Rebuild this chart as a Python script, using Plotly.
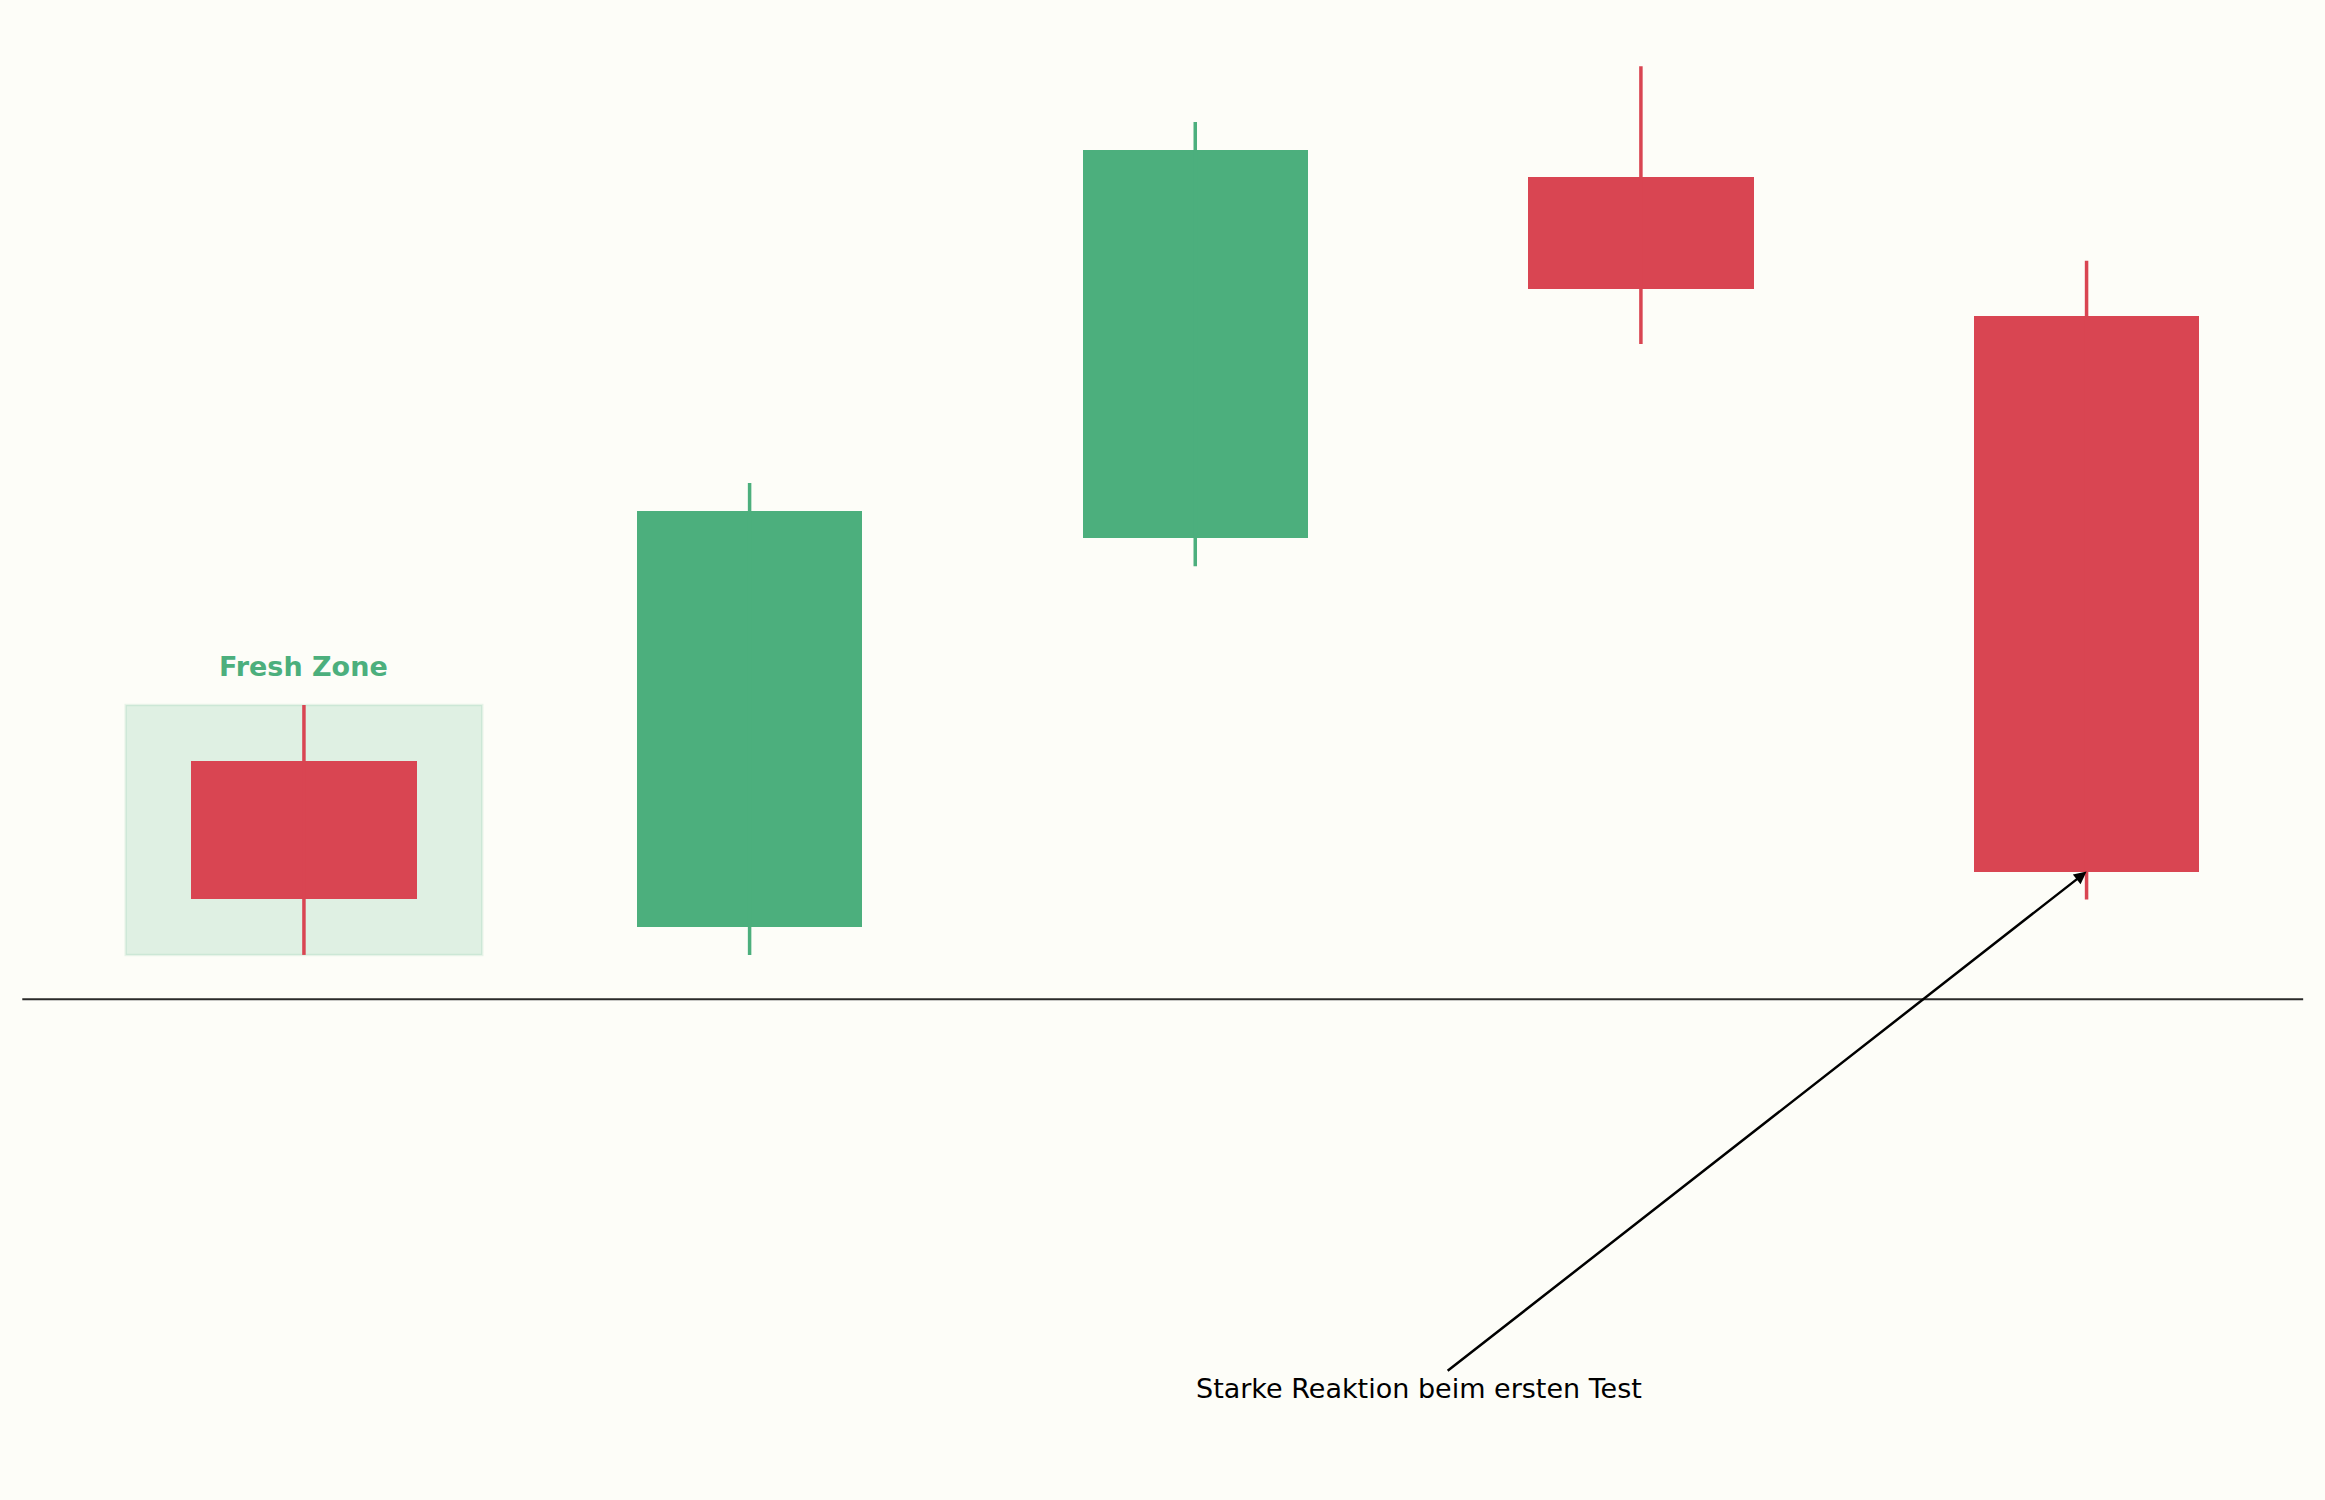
import plotly.graph_objects as go

# candle data (relative price units)
candles = [0, 1, 2, 3, 4]
opens = [107, 101, 115, 128, 123]
highs = [109, 117, 130, 132, 125]
lows = [100, 100, 114, 122, 102]
closes = [102, 116, 129, 124, 103]

zone_low = 100
zone_high = 109
support_level = 98.4
reaction_candle = 4

green = "#4caf7d"
red = "#d94552"
bg = "#fdfdf8"

colors = [green if c > o else red for o, c in zip(opens, closes)]

fig = go.Figure()

# wicks
for i, x in enumerate(candles):
    fig.add_trace(go.Scatter(x=[x, x], y=[lows[i], highs[i]], mode="lines",
                             line=dict(color=colors[i], width=3.5),
                             hoverinfo="skip", showlegend=False))

# bodies
fig.add_trace(go.Bar(x=candles,
                     y=[abs(c - o) for o, c in zip(opens, closes)],
                     base=[min(o, c) for o, c in zip(opens, closes)],
                     width=0.506,
                     marker=dict(color=colors, line=dict(width=0)),
                     showlegend=False))

# fresh zone box
fig.add_shape(type="rect", x0=-0.4, x1=0.4, y0=zone_low, y1=zone_high,
              fillcolor="rgba(76,175,125,0.17)",
              line=dict(color="rgba(76,175,125,0.12)", width=2.5),
              layer="below")

# support line
fig.add_shape(type="line", x0=-0.632, x1=4.486, y0=support_level, y1=support_level,
              line=dict(color="#2a2a2a", width=2), layer="below")

fig.add_annotation(x=0, y=110.37, text="<b>Fresh Zone</b>", showarrow=False,
                   font=dict(family="DejaVu Sans", size=27, color=green))

fig.add_annotation(x=reaction_candle, y=closes[reaction_candle], ax=2.563, ay=84.98,
                   axref="x", ayref="y", text="", showarrow=True,
                   arrowhead=2, arrowsize=1, arrowwidth=2.5, arrowcolor="black",
                   standoff=0, startstandoff=0)

fig.add_annotation(x=2.502, y=84.37, text="Starke Reaktion beim ersten Test",
                   showarrow=False,
                   font=dict(family="DejaVu Sans", size=27, color="black"))

fig.update_layout(
    width=2325, height=1500,
    margin=dict(l=0, r=0, t=0, b=0),
    paper_bgcolor=bg, plot_bgcolor=bg,
    xaxis=dict(range=[-0.682, 4.535], visible=False, fixedrange=True),
    yaxis=dict(range=[80.37, 134.39], visible=False, fixedrange=True),
    bargap=0,
)

# drop the page's default body margin so the figure fills the window
fig.write_html("out.html",
               config={"displayModeBar": False},
               post_script="document.body.style.margin='0';"
                           "document.body.style.background='%s';" % bg)
